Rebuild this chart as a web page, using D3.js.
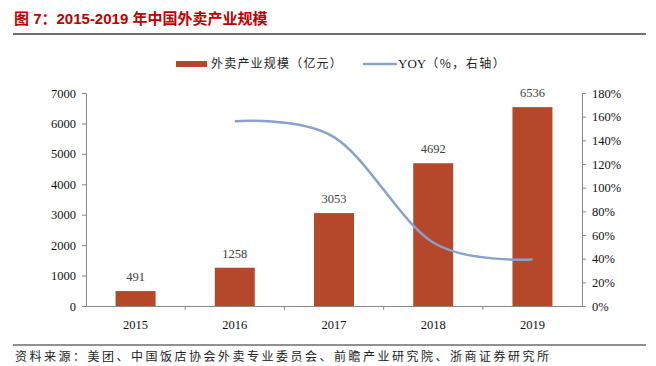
<!DOCTYPE html>
<html>
<head>
<meta charset="utf-8">
<script src="https://cdn.jsdelivr.net/npm/d3@7"></script>
<style>
  body { margin: 0; background: #fff; }
  svg { display: block; }
</style>
</head>
<body>
<div class="chart"></div>
<script>
// data
const years = ['2015', '2016', '2017', '2018', '2019'];
const scale = [491, 1258, 3053, 4692, 6536];
const yoyYears = ['2016', '2017', '2018', '2019'];
const yoy = [1.562, 1.427, 0.537, 0.393];
const leftTicks = [0, 1000, 2000, 3000, 4000, 5000, 6000, 7000];
const rightTicks = [0, 0.2, 0.4, 0.6, 0.8, 1.0, 1.2, 1.4, 1.6, 1.8];

const width = 656, height = 366;
const margin = {left: 86, right: 74, top: 93, bottom: 60};
const serif = '"Liberation Serif", "Times New Roman", serif';
const cjk = '"Noto Sans CJK SC", sans-serif';

const svg = d3.select('.chart').append('svg')
  .attr('width', width)
  .attr('height', height);

// title
svg.append('text')
  .attr('x', 14).attr('y', 24)
  .attr('fill', '#C00000')
  .attr('font-family', '"Liberation Sans", Arial, ' + cjk)
  .attr('font-weight', 'bold')
  .attr('font-size', 15)
  .text('图 7：2015-2019 年中国外卖产业规模');
svg.append('line')
  .attr('x1', 13).attr('x2', 646).attr('y1', 34).attr('y2', 34)
  .attr('stroke', '#404040').attr('stroke-width', 1.3);

// scales
const x = d3.scaleBand().domain(years)
  .range([margin.left, width - margin.right])
  .paddingInner(0.597).paddingOuter(0.298);
const y = d3.scaleLinear().domain([0, 7000]).range([306, 93]);
const y2 = d3.scaleLinear().domain([0, 1.8]).range([306, 93]);

// bars
svg.selectAll('.bar')
  .data(scale)
  .enter()
  .append('rect')
  .attr('x', (d, i) => x(years[i]))
  .attr('y', d => y(d))
  .attr('width', x.bandwidth())
  .attr('height', d => y(0) - y(d))
  .attr('fill', '#B5472B');

// bar labels
svg.selectAll('.blabel')
  .data(scale)
  .enter()
  .append('text')
  .attr('x', (d, i) => x(years[i]) + x.bandwidth() / 2)
  .attr('y', d => y(d) - 10)
  .attr('text-anchor', 'middle')
  .attr('font-family', serif)
  .attr('font-size', 12.5)
  .attr('fill', '#404040')
  .text(d => d);

// yoy line (smoothed like excel)
const line = d3.line()
  .x((d, i) => x(yoyYears[i]) + x.bandwidth() / 2)
  .y(d => y2(d))
  .curve(d3.curveCardinal.tension(0));
svg.append('path')
  .datum(yoy)
  .attr('d', line)
  .attr('fill', 'none')
  .attr('stroke', '#8AA2C8')
  .attr('stroke-width', 2.5);

// axes
const axisColor = '#888';
const gL = svg.append('g')
  .attr('transform', `translate(${margin.left},0)`)
  .call(d3.axisLeft(y).tickValues(leftTicks).tickSize(4).tickPadding(6)
    .tickFormat(d => d));
const gR = svg.append('g')
  .attr('transform', `translate(${width - margin.right},0)`)
  .call(d3.axisRight(y2).tickValues(rightTicks).tickSize(4).tickPadding(6)
    .tickFormat(d => Math.round(d * 100) + '%'));
const gB = svg.append('g')
  .attr('transform', `translate(0,${y(0)})`)
  .call(d3.axisBottom(x).tickSize(0).tickPadding(14));

[gL, gR, gB].forEach(g => {
  g.select('.domain').attr('stroke', axisColor);
  g.selectAll('line').attr('stroke', axisColor);
  g.selectAll('text')
    .attr('font-family', serif)
    .attr('font-size', 12.5)
    .attr('fill', '#111');
});

// x ticks between categories
const step = x.step();
svg.selectAll('.xtick')
  .data(d3.range(1, years.length))
  .enter()
  .append('line')
  .attr('x1', d => margin.left + d * step)
  .attr('x2', d => margin.left + d * step)
  .attr('y1', y(0)).attr('y2', y(0) + 4)
  .attr('stroke', axisColor);

// legend
svg.append('rect')
  .attr('x', 176).attr('y', 61).attr('width', 31).attr('height', 6)
  .attr('fill', '#B5472B');
svg.append('text')
  .attr('x', 211).attr('y', 68)
  .attr('font-family', cjk).attr('font-size', 12).attr('fill', '#222')
  .attr('letter-spacing', 1.2)
  .text('外卖产业规模（亿元）');
svg.append('line')
  .attr('x1', 363).attr('x2', 397).attr('y1', 64).attr('y2', 64)
  .attr('stroke', '#8AA2C8').attr('stroke-width', 2.5);
const lg = svg.append('text')
  .attr('x', 398).attr('y', 68)
  .attr('font-size', 12).attr('fill', '#222');
lg.append('tspan').attr('font-family', serif).attr('font-size', 13).text('YOY');
lg.append('tspan').attr('font-family', cjk).attr('letter-spacing', 1.5).text('（%，右轴）');

// footer
svg.append('line')
  .attr('x1', 13).attr('x2', 646).attr('y1', 345).attr('y2', 345)
  .attr('stroke', '#222').attr('stroke-width', 1);
svg.append('text')
  .attr('x', 15).attr('y', 361)
  .attr('font-family', cjk).attr('font-size', 12).attr('fill', '#222')
  .attr('letter-spacing', 2.5)
  .text('资料来源：美团、中国饭店协会外卖专业委员会、前瞻产业研究院、浙商证券研究所');
</script>
</body>
</html>
